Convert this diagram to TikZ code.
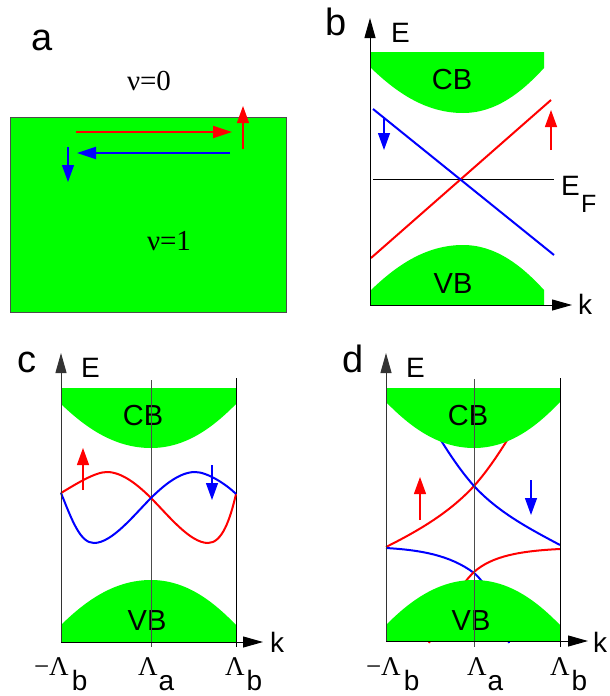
\documentclass[tikz,border=0pt]{standalone}
\usepackage{fontspec}
\usepackage{graphicx}
\usetikzlibrary{arrows.meta}
\newfontfamily\sansf{Liberation Sans}
\newfontfamily\seriff{Liberation Serif}
\definecolor{bandgreen}{RGB}{0,255,0}
\definecolor{spinred}{RGB}{255,0,0}
\definecolor{spinblue}{RGB}{0,0,255}
% #1 left x, #2 right x, #3 centre x, #4 flat edge y, #5 side y, #6 extremum y
\newcommand\mybandshape[6]{%
  \fill[bandgreen] (#1,#4) -- (#2,#4) -- (#2,#5)
    .. controls ({#2-0.27*(#2-#3)},{#5+0.53*(#6-#5)}) and ({#3+0.41*(#2-#3)},#6) .. (#3,#6)
    .. controls ({#3-0.41*(#3-#1)},#6) and ({#1+0.27*(#3-#1)},{#5+0.53*(#6-#5)}) .. (#1,#5) -- cycle;}
\newcommand\mysubtext[1]{\raisebox{-15.5pt}{\sansf\fontsize{28}{30}\selectfont #1}}
\begin{document}
\begin{tikzpicture}[x=1pt,y=-1pt,
  panellabel/.style={anchor=base west,inner sep=0pt,outer sep=0pt,font=\sansf\fontsize{38}{40}\selectfont},
  axlabel/.style={anchor=base west,inner sep=0pt,outer sep=0pt,font=\sansf\fontsize{28}{30}\selectfont},
  sublabel/.style={anchor=base west,inner sep=0pt,outer sep=0pt,font=\sansf\fontsize{25}{27}\selectfont},
  bandlabel/.style={anchor=base,inner sep=0pt,outer sep=0pt,font=\sansf\fontsize{29}{31}\selectfont},
  nulabel/.style={anchor=base west,inner sep=0pt,outer sep=0pt,font=\seriff\fontsize{29}{31}\selectfont},
  lamlabel/.style={anchor=base west,inner sep=0pt,outer sep=0pt,font=\seriff\fontsize{27}{29}\selectfont},
  axis/.style={line width=1pt,-{Triangle[length=20pt,width=11pt]}},
  spinarrow/.style={line width=1.3pt,-{Triangle[length=17pt,width=12pt]}},
  edgearrow/.style={line width=2.2pt,-{Triangle[length=19pt,width=12pt]}},
  curve/.style={line width=2pt},
  guide/.style={line width=1pt,black!70}]
\useasboundingbox (0,0) rectangle (610,696);

% ---------------- panel a ----------------
\node[panellabel] (la) at (31,50) {a};
\filldraw[fill=bandgreen,draw=black!70,line width=0.9pt] (10,117) rectangle (286,312);
\node[nulabel] (nu0) at (127,90) {ν=0};
\node[nulabel] (nu1) at (147,250) {ν=1};
\draw[edgearrow,spinred] (76,132) -- (232,132);
\draw[edgearrow,spinblue] (230,153) -- (77,153);
\draw[spinarrow,spinred] (243,149) -- (243,106);
\draw[spinarrow,spinblue] (68,147) -- (68,182);

% ---------------- panel b ----------------
\node[panellabel] (lb) at (325,35) {b};
\mybandshape{371}{544}{463}{52}{68}{113}
\mybandshape{371}{544}{463}{305}{290}{245}
\node[bandlabel] (cbb) at (452,89) {CB};
\node[bandlabel] (vbb) at (453,293) {VB};
\draw[line width=1pt] (373,179) -- (554,179);
\draw[curve,spinred] (371,258) -- (551,100);
\draw[curve,spinblue] (373,109) -- (554,255);
\draw[axis] (370,305) -- (370,18);
\draw[axis] (370,305) -- (572,305);
\node[axlabel] (Eb) at (391,42) {E};
\node[axlabel] (kb) at (578,314) {k};
\node[axlabel] (EFb) at (561,195) {E};
\node[sublabel] (Fb) at (581,212) {F};
\draw[spinarrow,spinblue] (384,118) -- (384,150);
\draw[spinarrow,spinred] (551,150) -- (551,110);

% ---------------- panel c ----------------
\node[panellabel] (lc) at (17,372) {c};
\mybandshape{61}{236}{151}{388}{404}{448}
\mybandshape{61}{236}{151}{642}{625}{580}
\node[bandlabel] (cbc) at (143,425) {CB};
\node[bandlabel] (vbc) at (147,630) {VB};
\draw[guide] (151,380) -- (151,647);
\draw[line width=1pt] (236,378) -- (236,647);
\draw[curve,spinred] (61,493) .. controls (76,484) and (95,472) .. (107,472)
  .. controls (122,472) and (138,485) .. (151,498)
  .. controls (168,515) and (190,543) .. (208,543)
  .. controls (222,543) and (230,520) .. (236,494);
\draw[curve,spinblue] (61,493) .. controls (72,520) and (80,543) .. (94,543)
  .. controls (112,543) and (134,515) .. (151,498)
  .. controls (164,485) and (180,472) .. (195,472)
  .. controls (207,472) and (226,484) .. (236,494);
\draw[axis,black!80] (61,642) -- (61,353);
\draw[axis] (61,642) -- (263,642);
\node[axlabel] (Ec) at (81,377) {E};
\node[axlabel] (kc) at (270,652) {k};
\draw[spinarrow,spinred] (83,490) -- (83,448);
\draw[spinarrow,spinblue] (212,465) -- (212,500);
\node[lamlabel] (mlbc) at (34,675) {−Λ\kern3pt\mysubtext{b}};
\node[lamlabel] (lac) at (138,675) {Λ\kern1pt\mysubtext{a}};
\node[lamlabel] (lbc) at (225,675) {Λ\kern2pt\mysubtext{b}};

% ---------------- panel d ----------------
\node[panellabel] (ld) at (342,372) {d};
\draw[curve,spinred] (386,547) .. controls (420,530) and (450,512) .. (474,486)
  .. controls (490,468) and (505,445) .. (525,410);
\draw[curve,spinblue] (560,545) .. controls (528,528) and (498,512) .. (474,486)
  .. controls (458,468) and (443,445) .. (423,410);
\draw[curve,spinblue] (386,548) .. controls (420,550) and (450,555) .. (474,573)
  .. controls (490,586) and (503,620) .. (509,643);
\draw[curve,spinred] (560,549) .. controls (520,551) and (492,556) .. (474,572)
  .. controls (460,585) and (440,620) .. (429,643);
\mybandshape{386}{560}{474}{388}{402}{448}
\mybandshape{386}{560}{474}{641}{625}{580}
\node[bandlabel] (cbd) at (468,425) {CB};
\node[bandlabel] (vbd) at (471,630) {VB};
\draw[guide] (474,379) -- (474,647);
\draw[line width=1pt] (560,378) -- (560,647);
\draw[axis,black!80] (386,641) -- (386,353);
\draw[axis] (386,641) -- (588,641);
\node[axlabel] (Ed) at (406,377) {E};
\node[axlabel] (kd) at (593,652) {k};
\draw[spinarrow,spinred] (420,520) -- (420,477);
\draw[spinarrow,spinblue] (531,480) -- (531,515);
\node[lamlabel] (mlbd) at (366,675) {−Λ\kern3pt\mysubtext{b}};
\node[lamlabel] (lad) at (467,675) {Λ\kern1pt\mysubtext{a}};
\node[lamlabel] (lbd) at (550,675) {Λ\kern2pt\mysubtext{b}};
\end{tikzpicture}
\end{document}
